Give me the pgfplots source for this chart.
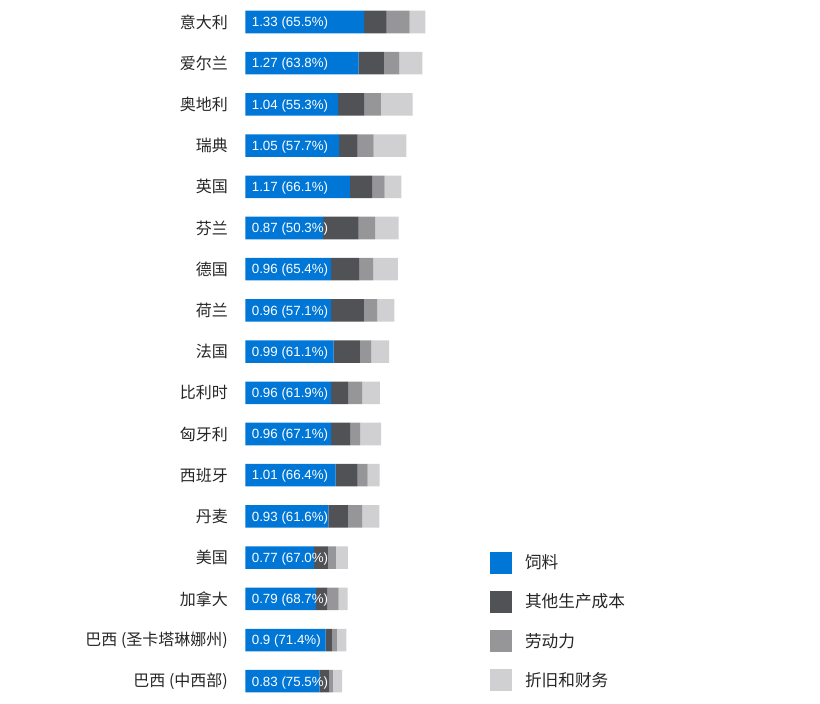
\documentclass[border=0pt]{standalone}
\usepackage{pgfplots}
\pgfplotsset{compat=1.18}
\usepackage{fontspec}
\setmainfont{Liberation Sans}
\newfontfamily\cjk{Noto Sans CJK SC}

\definecolor{feed}{RGB}{0,118,214}
\definecolor{other}{RGB}{80,82,86}
\definecolor{labour}{RGB}{150,150,152}
\definecolor{depr}{RGB}{208,208,210}

% shared geometry: 1 px of the reference = 0.75pt
\pgfplotsset{base/.style={
  x=66.875pt, y=30.9pt,
  xmin=0, xmax=3, ymin=-0.5, ymax=16.5,
  y dir=reverse,
  at={(184.1pt,-1.05pt)}, anchor=north west,
  clip=false}}

\begin{document}
\begin{tikzpicture}
\useasboundingbox (0,0) rectangle (615pt,-527.25pt);

\begin{axis}[base,
  xbar stacked,
  bar width=16.9pt,
  axis x line=none,
  axis y line=left,
  y axis line style={draw=none},
  ytick style={draw=none},
  major tick length=0pt,
  ytick={0,...,16},
  yticklabels={意大利,爱尔兰,奥地利,瑞典,英国,芬兰,德国,荷兰,法国,比利时,匈牙利,西班牙,丹麦,美国,加拿大,{巴西 (圣卡塔琳娜州)},{巴西 (中西部)}},
  yticklabel style={font=\cjk\fontsize{12}{14}\selectfont, text=black!85, inner xsep=0pt},
  yticklabel shift=13pt,
  legend cell align=left,
  legend image code/.code={\fill[#1] (0pt,-8.25pt) rectangle (16.5pt,8.25pt);},
  legend style={at={(0.9142,0.2143)}, anchor=north west, draw=none, fill=none,
    inner sep=0pt, outer sep=0pt, row sep=12.9pt,
    font=\cjk\fontsize{12.5}{14}\selectfont, text=black!85,
    nodes={inner sep=0pt},
    /tikz/every odd column/.append style={column sep=9.75pt}},
]
\addplot[fill=feed, draw=none] coordinates {
  (1.33,0) (1.27,1) (1.04,2) (1.05,3) (1.17,4) (0.87,5) (0.96,6) (0.96,7) (0.99,8)
  (0.96,9) (0.96,10) (1.01,11) (0.93,12) (0.77,13) (0.79,14) (0.90,15) (0.83,16)};
\addplot[fill=other, draw=none] coordinates {
  (0.254,0) (0.288,1) (0.292,2) (0.209,3) (0.250,4) (0.400,5) (0.314,6) (0.374,7) (0.292,8)
  (0.191,9) (0.213,10) (0.247,11) (0.224,12) (0.161,13) (0.127,14) (0.075,15) (0.112,16)};
\addplot[fill=labour, draw=none] coordinates {
  (0.258,0) (0.168,1) (0.187,2) (0.179,3) (0.142,4) (0.183,5) (0.157,6) (0.142,7) (0.131,8)
  (0.157,9) (0.112,10) (0.112,11) (0.157,12) (0.082,13) (0.127,14) (0.049,15) (0.037,16)};
\addplot[fill=depr, draw=none] coordinates {
  (0.176,0) (0.258,1) (0.355,2) (0.366,3) (0.187,4) (0.265,5) (0.277,6) (0.194,7) (0.198,8)
  (0.198,9) (0.236,10) (0.135,11) (0.191,12) (0.135,13) (0.101,14) (0.108,15) (0.105,16)};
\legend{饲料,其他生产成本,劳动力,折旧和财务}
\end{axis}

% labels inside the feed bars
\begin{axis}[base,
  hide axis,
  nodes near coords,
  nodes near coords align={horizontal},
  point meta=explicit symbolic,
  every node near coord/.append style={anchor=west, xshift=4.6pt, yshift=-1pt, inner sep=0pt,
    font=\fontsize{10}{12}\selectfont, text=white},
]
\addplot[only marks, mark=text, text mark={}] coordinates {
  (0,0) [1.33 (65.5\%)] (0,1) [1.27 (63.8\%)] (0,2) [1.04 (55.3\%)] (0,3) [1.05 (57.7\%)]
  (0,4) [1.17 (66.1\%)] (0,5) [0.87 (50.3\%)] (0,6) [0.96 (65.4\%)] (0,7) [0.96 (57.1\%)]
  (0,8) [0.99 (61.1\%)] (0,9) [0.96 (61.9\%)] (0,10) [0.96 (67.1\%)] (0,11) [1.01 (66.4\%)]
  (0,12) [0.93 (61.6\%)] (0,13) [0.77 (67.0\%)] (0,14) [0.79 (68.7\%)] (0,15) [0.9 (71.4\%)]
  (0,16) [0.83 (75.5\%)]};
\end{axis}
\end{tikzpicture}
\end{document}
